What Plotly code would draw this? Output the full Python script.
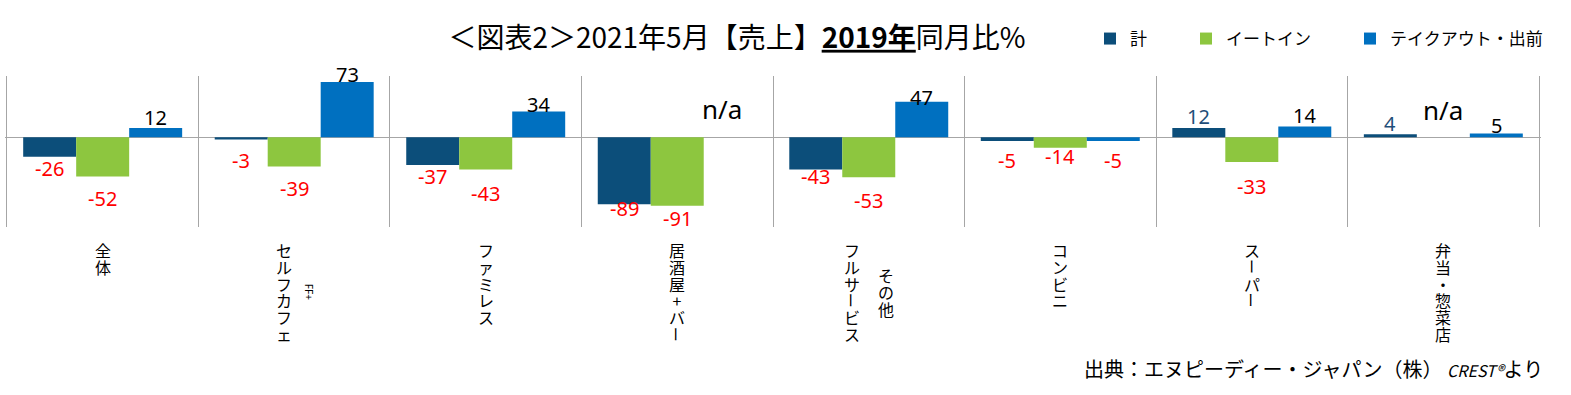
import plotly.graph_objects as go

# ---- data ----
categories = ["全体", "セルフカフェ+FF", "ファミレス", "居酒屋+バー",
              "フルサービス その他", "コンビニ", "スーパー", "弁当・惣菜店"]
series_names = ["計", "イートイン", "テイクアウト・出前"]
total = [-26, -3, -37, -89, -43, -5, 12, 4]
eat_in = [-52, -39, -43, -91, -53, -14, -33, None]
takeout = [12, 73, 34, None, 47, -5, 14, 5]
na_text = "n/a"
title_text = "＜図表2＞2021年5月【売上】<b><u>2019年</u></b>同月比%"
source_text = "出典：エヌピーディー・ジャパン（株） <i><span style='font-size:16px'>CREST®</span></i>より"

# ---- label placement (pixels away from the bar end) ----
total_gap = [12, 21, 11, 4, 7, 20, 12, 11]
eat_in_gap = [22, 22, 24, 13, 23, 9, 24, 0]
takeout_gap = [11, 8, 7, 0, 4, 20, 11, 8]

# vertical label columns per category: (text, xshift, first-char offset, rotate-as-a-whole)
label_columns = [
    [("全体", 0, 23, False)],
    [("セルフカフェ", -10, 23, False), ("FF+", 15, 65, True)],
    [("ファミレス", 0, 23, False)],
    [("居酒屋+バー", 0, 23, False)],
    [("フルサービス", -17, 23, False), ("その他", 17, 48, False)],
    [("コンビニ", 0, 23, False)],
    [("スーパー", 0, 23, False)],
    [("弁当・惣菜店", 0, 23, False)],
]

colors = ["#0C4E7A", "#8DC63F", "#0070C0"]
pos_label_colors = ["#1F4E79", "#000000", "#000000"]
legend_pad = ["\u3000\u3000", "\u3000\u3000", ""]
JP = "Noto Sans CJK JP"
NUM = "Noto Sans"

W, H = 1571, 395
ML, MT, MB = 5, 76, 168
PW = 1536
MR = W - ML - PW
PH = H - MT - MB
XR = [-0.51, 7.51]
BARGAP = 0.17
cat_w = PW / (XR[1] - XR[0])
bar_w = cat_w * (1 - BARGAP) / 3

fig = go.Figure()
for name, vals, col, pad in zip(series_names, [total, eat_in, takeout], colors, legend_pad):
    fig.add_trace(go.Bar(
        name=name + pad,
        x=categories, y=vals,
        marker=dict(color=col, line=dict(width=0)),
        cliponaxis=False, hoverinfo="x+y",
    ))

annotations = []
# data labels
for k, (vals, gaps, pcol) in enumerate(zip([total, eat_in, takeout],
                                           [total_gap, eat_in_gap, takeout_gap], pos_label_colors)):
    for i, v in enumerate(vals):
        if v is None:
            continue
        neg = v < 0
        annotations.append(dict(x=categories[i], xref="x", y=v, yref="y",
                                xshift=(k - 1) * bar_w, yshift=(-gaps[i] if neg else gaps[i]),
                                text=str(v), showarrow=False, xanchor="center", yanchor="middle",
                                font=dict(family=NUM, size=20, color="#FF0000" if neg else pcol)))

# vertical (stacked) category labels
PITCH = 16.8
BASE = PITCH / 1.3          # base font size so that one line step equals PITCH
CH = 16                     # glyph size


def add_run(ci, xs, chars, first_slot, off):
    n = len(chars)
    center = off + (first_slot + (n - 1) / 2) * PITCH
    txt = "<br>".join("<span style='font-size:%dpx'>%s</span>" % (CH, c) for c in chars)
    annotations.append(dict(x=categories[ci], xref="x", y=0, yref="paper",
                            xshift=xs, yshift=-center, text=txt, borderpad=0,
                            showarrow=False, font=dict(family=JP, size=BASE, color="#000"),
                            xanchor="center", yanchor="middle", align="center"))


for ci, cols in enumerate(label_columns):
    for text, xs, off, rot in cols:
        if rot:
            annotations.append(dict(x=categories[ci], xref="x", y=0, yref="paper",
                                    xshift=xs, yshift=-off, text=text, textangle=90,
                                    showarrow=False, font=dict(family=NUM, size=10, color="#000"),
                                    xanchor="center", yanchor="middle"))
            continue
        run, run_start = [], 0
        for j, ch in enumerate(text):
            if ch == "ー":
                if run:
                    add_run(ci, xs, run, run_start, off)
                    run = []
                annotations.append(dict(x=categories[ci], xref="x", y=0, yref="paper",
                                        xshift=xs, yshift=-(off + j * PITCH), text=ch,
                                        textangle=90, borderpad=0,
                                        showarrow=False, font=dict(family=JP, size=CH - 1, color="#000"),
                                        xanchor="center", yanchor="middle"))
                run_start = j + 1
            else:
                if not run:
                    run_start = j
                run.append(ch)
        if run:
            add_run(ci, xs, run, run_start, off)

# n/a markers
annotations.append(dict(x=categories[3], xref="x", y=0, yref="y", xshift=45, yshift=28,
                        text=na_text, showarrow=False, font=dict(family=NUM, size=26, color="#000")))
annotations.append(dict(x=categories[7], xref="x", y=0, yref="y", xshift=0, yshift=27,
                        text=na_text, showarrow=False, font=dict(family=NUM, size=26, color="#000")))

# source note
annotations.append(dict(x=(1545 - ML) / PW, xref="paper", y=(H - MB - 368) / PH, yref="paper",
                        xanchor="right", yanchor="middle",
                        text=source_text, showarrow=False, font=dict(family=JP, size=20, color="#000")))

fig.update_layout(
    width=W, height=H,
    margin=dict(l=ML, r=MR, t=MT, b=MB, pad=0, autoexpand=False),
    paper_bgcolor="white", plot_bgcolor="white",
    barmode="group", bargap=BARGAP, bargroupgap=0,
    title=dict(text=title_text, x=737 / W, xanchor="center", y=1 - 38 / H, yanchor="middle",
               xref="container", yref="container", font=dict(family=JP, size=28, color="#000")),
    showlegend=True,
    legend=dict(orientation="h", x=(1090 - ML) / PW, xanchor="left", y=1 + 37 / PH, yanchor="middle",
                font=dict(family=JP, size=17, color="#000"), bgcolor="rgba(0,0,0,0)",
                itemclick=False, traceorder="normal"),
    xaxis=dict(type="category", range=XR, tickson="boundaries", showgrid=True,
               gridcolor="#A6A6A6", gridwidth=1,
               showticklabels=False, ticks="", showline=False, zeroline=False),
    yaxis=dict(range=[-119, 81], showgrid=False, showticklabels=False, ticks="",
               zeroline=True, zerolinecolor="#A6A6A6", zerolinewidth=1, showline=False),
    annotations=annotations,
)

fig.write_html("out.html", config={"displayModeBar": False},
               post_script="document.body.style.margin='0';document.body.style.overflow='hidden';")
